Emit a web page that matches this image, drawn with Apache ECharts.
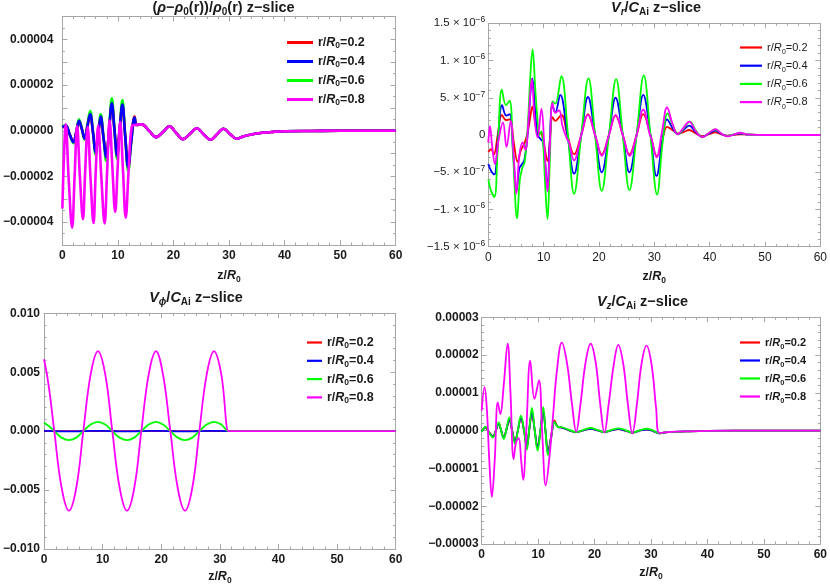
<!DOCTYPE html>
<html><head><meta charset="utf-8">
<script src="https://cdn.jsdelivr.net/npm/echarts@6/dist/echarts.min.js"></script>
<style>html,body{margin:0;padding:0;background:#fff}#c{width:830px;height:586px}</style>
</head><body><div id="c"></div><script>
// ---------- DATA ----------
const seriesNames = ['r/R0=0.2','r/R0=0.4','r/R0=0.6','r/R0=0.8'];
const xTicks = [0,10,20,30,40,50,60];

// Panel 1: (rho-rho0)/rho0, values in units of 1e-6
const rhoZ_inner = [0,0.6,1.3,2.0,2.5,3.0,3.5,4.0,4.5,5.0,5.5,6.0,6.45,6.9,7.4,7.9,8.4,8.9,9.35,9.85,10.3,10.8,11.3,11.85,12.4,13.0,13.4];
const rhoV_02 = [1.4,2.2,-1.5,-4.8,-0.6,4.0,0.7,-3.3,1.8,6.8,-0.6,-9.0,-1.5,5.8,-3,-11,0.2,11.3,1.0,-10.4,0.2,10.8,-2,-15.5,-4.2,6.2,2.5];
const rhoV_04 = [1.5,2.3,-1.5,-5.0,-0.6,4.3,0.8,-3.5,2.0,7.3,-0.6,-9.5,-1.5,6.2,-3,-11.5,0.3,12.0,1.2,-10.8,0.3,11.5,-2,-16,-4.5,5.8,2.5];
const rhoV_06 = [1.8,2.5,-1.5,-5.5,-0.5,5.0,1.0,-3.9,2.5,8.6,-0.5,-10.5,-1.5,7.2,-3,-13.3,0.5,14.2,1.5,-12.3,0.5,13.4,-2,-17.7,-5,5.3,2.5];
const rhoZ_08 = [0,0.3,0.6,1.15,1.75,2.2,2.65,3.15,3.7,4.1,4.55,5.05,5.6,6.0,6.45,7.0,7.6,8.05,8.5,9.0,9.5,9.95,10.4,10.9,11.4,11.95,12.5,13.1];
const rhoV_08 = [-34,-10,2.8,-22,-42.4,-20,2.0,-20,-38.7,-18,1.6,-20,-40.4,-18,2.3,-20,-40.6,-18,4.5,-16,-35.5,-16,3.8,-17,-38,-16,2.0,2.5];
const rhoTailZ = [14.3,15.6,16.9,18.1,19.3,20.5,21.7,22.9,24.2,25.4,26.7,27.8,29.0,30.2,31.4,32.5,34,36,38,40,45,50,60];
const rhoTailV = [2.8,0,-2.8,-0.5,1.9,-1,-3.7,-1.5,1.1,-1.5,-3.9,-1.6,0.9,-1.5,-3.5,-2.5,-1.6,-0.9,-0.5,-0.25,-0.1,0,0];

// Panel 2: Vr/CAi, values in units of 1e-7
const vrZ_02 = [0,0.5,1.0,1.7,2.45,3.2,3.9,4.6,5.3,5.9,6.5,7.1,7.5,7.95,8.5,8.9,9.5,10.0,10.7,11.2,11.6,12.1,13.2,14.3,15.5,16.8,18.0,19.3,20.5,21.8,23.0,24.3,25.5,26.8,28.0,29.3,30.5,31.5,32.3,33.4,34.3,35.3,36.3,37.5,38.7,39.9,41.0,42.1,43.2,45.5,50,60];
const vrV_02 = [-2.3,-1.9,-2.6,0,2.7,2.0,2.1,-1,-3.6,-2,-1.2,0.3,2,3.8,1.5,0.4,0.3,-1,-3.5,0,2.4,1.9,2.7,0,-2.6,0,2.8,0,-2.6,0,2.6,0,-2.6,0,2.8,0,-2.9,-0.5,1.1,0.6,0.2,0.4,0.67,0.2,-0.15,0.1,0.35,0.1,-0.08,0.1,0,0];
const vrZ_04 = [0,0.5,1.1,1.7,2.5,3.25,3.85,4.5,5.1,5.6,6.0,6.5,7.1,7.5,7.95,8.5,8.9,9.4,9.9,10.3,10.7,11.1,11.6,12.1,13.0,14.3,15.5,16.8,18.0,19.3,20.5,21.8,23.0,24.3,25.5,26.8,28.0,29.3,30.4,31.5,32.3,33.4,34.3,35.3,36.3,37.5,38.7,39.9,41.0,42.1,43.2,44.5,45.5,47,50,60];
const vrV_04 = [-3.9,-4.8,-5.3,-1,4.0,2.6,2.8,-2.5,-7.5,-4.5,-4.0,-3.4,0,4.5,7.6,3,0,-0.5,-1,-4,-7.3,-1,4.0,3.0,5.4,0,-5.2,0,5.1,0,-5.0,0,5.0,0,-5.0,0,5.4,0,-5.5,-0.5,2.1,0.8,0.1,0.7,1.25,0.4,-0.25,0.2,0.6,0.15,-0.12,0.08,0.2,0.05,0,0];
const vrZ_06 = [0,0.5,1.1,1.7,2.45,3.2,3.85,4.5,5.2,5.7,6.2,6.6,7.15,7.6,8.0,8.5,8.9,9.2,9.6,9.9,10.3,10.7,11.1,11.6,12.1,13.2,14.4,15.5,16.8,18.1,19.3,20.5,21.8,23.1,24.3,25.5,26.8,28.1,29.3,30.5,31.5,32.4,33.4,34.3,35.4,36.4,37.6,38.7,39.9,41.0,42.1,43.2,44.4,45.5,47,50,60];
const vrV_06 = [-6.0,-7.5,-8.3,-2,6.1,4.0,4.6,-3,-11.2,-6,-4.3,-3.5,1.5,8,11.5,6,2,0,0.5,-1,-7,-11.3,-4,4.5,4.2,7.9,0,-7.9,0,7.6,0,-7.5,0,7.5,0,-7.4,0,8.0,0,-8.0,-1,2.9,1.2,0.1,1,1.8,0.5,-0.3,0.3,0.75,0.2,-0.15,0.1,0.25,0.05,0,0];
const vrZ_08 = [0,0.3,0.7,1.2,1.9,2.65,3.3,4.05,4.6,5.07,5.6,6.2,6.7,7.25,7.86,8.4,8.9,9.6,10.1,10.7,11.1,11.6,12.1,12.8,13.4,14.2,14.5,15.5,16.8,18.0,19.3,19.5,20.5,21.8,23.0,24.3,24.5,25.5,26.8,28.0,29.2,29.5,30.4,31.4,32.3,33.3,34.2,35.3,36.3,37.5,38.7,39.9,41.1,42.1,43.2,44.5,45.5,47,50,60];
const vrV_08 = [-1.0,1.2,-1.5,-3.9,-0.5,1.7,-1.6,1.9,-3,-7.9,-2.8,-1.0,-2.0,1.9,7.5,1.9,-0.3,3.5,-1,-7.6,-2,4.3,3.0,3.3,1.2,-0.5,-0.8,-3.4,0,2.7,0,-0.5,-2.8,0,2.7,0,-0.5,-2.8,0,3.4,0,-0.5,-3.0,0.5,3.7,1.5,0.1,1.0,1.8,0.5,-0.3,0.3,0.8,0.2,-0.18,0.1,0.3,0.05,0,0];

// Panel 3: Vphi/CAi, values in units of 1e-3
const phiZ = [0,0.5,1.0,1.75,3.0,4.25,5.5,6.7,7.95,9.2,10.45,11.65,12.9,14.15,15.4,16.6,17.85,19.1,20.3,21.55,22.8,24.05,25.3,26.5,27.75,29.0,30.25,31.45,31.6,40,50,60];
const phiV_02 = [0,0,0,0,0,0,0,0,0,0,0,0,0,0,0,0,0,0,0,0,0,0,0,0,0,0,0,0,0,0,0,0];
const phiV_04 = [0.02,0.02,0.01,0,-0.02,-0.02,-0.02,0,0.02,0.02,0.02,0,-0.02,-0.02,-0.02,0,0.02,0.02,0.02,0,-0.02,-0.02,-0.02,0,0.02,0.02,0.02,0,0,0,0,0];
const phiV_06 = [0.7,0.55,0.35,0,-0.55,-0.76,-0.55,0,0.56,0.79,0.56,0,-0.55,-0.76,-0.55,0,0.56,0.79,0.56,0,-0.55,-0.76,-0.55,0,0.56,0.79,0.56,0,0,0,0,0];
const phiV_08 = [6.1,4.8,3.1,0,-4.8,-6.75,-4.8,0,4.8,6.78,4.8,0,-4.8,-6.75,-4.8,0,4.8,6.78,4.8,0,-4.8,-6.75,-4.8,0,4.8,6.78,4.8,0,0,0,0,0];

// Panel 4: Vz/CAi, values in units of 1e-6
const vzZ_low = [0,0.7,1.3,2.0,2.5,3.0,3.45,3.9,4.4,4.9,5.4,5.9,6.4,6.95,7.5,8.0,8.4,8.9,9.4,9.9,10.4,10.9,11.3,11.75,12.3,12.9,13.5,14.2,15.5,16.75,18.0,19.3,20.5,21.75,23.0,24.2,25.5,26.7,28.0,29.2,30.4,31.5,33,36,40,50,60];
const vzV_02 = [-0.2,0.8,-0.4,-1.5,0,1.8,0,-1.8,0.4,2.8,0,-2.8,0,3.2,0,-4.0,0,4.5,0,-4.3,0,5.0,0,-5.5,-1.5,2.7,1.0,0.8,0.1,-0.4,0.1,0.5,0.1,-0.4,0.1,0.4,0,-0.5,0,0.3,-0.1,-0.7,-0.4,-0.2,-0.05,0,0];
const vzV_04 = [-0.3,0.9,-0.5,-1.6,0,1.9,0,-1.9,0.4,3.0,0,-3.0,0,3.4,0,-4.3,0,4.8,0,-4.6,0,5.3,0,-5.8,-1.8,2.2,1.0,0.8,0.1,-0.4,0.1,0.5,0.1,-0.4,0.1,0.4,0,-0.5,0,0.3,-0.1,-0.7,-0.4,-0.2,-0.05,0,0];
const vzV_06 = [-0.3,1.0,-0.5,-1.8,0,2.2,0,-2.2,0.5,3.5,0,-3.5,0,4.0,0,-5.0,0,6.0,0,-5.3,0,6.2,0,-6.5,-2,2.3,1.0,0.9,0.2,-0.4,0.2,0.7,0.2,-0.4,0.2,0.6,0.1,-0.5,0.1,0.5,0,-0.7,-0.4,-0.2,-0.05,0,0];
const vzZ_08 = [0,0.5,0.9,1.35,1.8,2.3,2.85,3.3,3.9,4.6,5.1,5.65,6.1,6.55,7.0,7.35,7.9,8.6,9.35,10.15,10.7,11.35,12.0,12.7,13.3,14.2,15.1,16.0,16.75,17.5,18.4,19.3,20.2,21.0,21.75,22.5,23.4,24.2,25.1,25.9,26.7,27.5,28.3,29.2,30.1,30.9,31.5,33,36,40,50,60];
const vzV_08 = [5.3,11.5,6,-8,-17.5,-8,7.5,4.4,12,23,10,-7.5,-3,-2,-8,-13,0,18.5,8.4,13.3,0,-14.5,-7,5,15.5,23.3,18,7,-0.3,7,18,23,18,7,-0.5,7,17.5,22.7,17.5,7,-0.7,7,17.5,22.5,17.5,6,-0.6,-0.4,-0.2,-0.05,0,0];

// ---------- BUILD ----------
const FONT = '"Liberation Sans", Arial, Helvetica, sans-serif';
const COLORS = ['#ff0000','#0000ff','#00ff00','#ff00ff'];
const FRAME = '#a6a6a6';
function zip(zs, vs, s){ return zs.map((z,i)=>[z, vs[i]*s]); }
function sgn(v){ return v < -1e-15 ? '\u2212' : ''; }
function fixedFmt(v,d){ return sgn(v) + Math.abs(v).toFixed(d); }

const panelData = [
  [zip(rhoZ_inner.concat(rhoTailZ), rhoV_02.concat(rhoTailV), 1e-6),
   zip(rhoZ_inner.concat(rhoTailZ), rhoV_04.concat(rhoTailV), 1e-6),
   zip(rhoZ_inner.concat(rhoTailZ), rhoV_06.concat(rhoTailV), 1e-6),
   zip(rhoZ_08.concat(rhoTailZ), rhoV_08.concat(rhoTailV), 1e-6)],
  [zip(vrZ_02, vrV_02, 1e-7), zip(vrZ_04, vrV_04, 1e-7), zip(vrZ_06, vrV_06, 1e-7), zip(vrZ_08, vrV_08, 1e-7)],
  [zip(phiZ, phiV_02, 1e-3), zip(phiZ, phiV_04, 1e-3), zip(phiZ, phiV_06, 1e-3), zip(phiZ, phiV_08, 1e-3)],
  [zip(vzZ_low, vzV_02, 1e-6), zip(vzZ_low, vzV_04, 1e-6), zip(vzZ_low, vzV_06, 1e-6), zip(vzZ_08, vzV_08, 1e-6)]
];

const vrMant = {15:'1.5',10:'1.',5:'5.'};
const vrExp = {15:'\u22126',10:'\u22126',5:'\u22127'};
const panels = [
  {grid:{left:53.3, top:16.5, width:342.4, height:228.5}, ymin:-5e-5, ymax:5e-5, yint:1e-5, yminor:2, ym:9,
   yfmt:v=>{const k=Math.round(v*1e5); return (k%2)?'':fixedFmt(v,5);}, bold:true, lw:2.6, ng:23,
   legend:{left:287, top:36, itemWidth:26, ih:3, fs:12.5, gap:4.5, bold:true}},
  {grid:{left:488.3, top:23.3, width:336, height:223.4}, ymin:-1.5e-6, ymax:1.5e-6, yint:5e-7, yminor:5, ym:3,
   yfmt:v=>{const k=Math.round(v*1e7); if(k===0) return '{m|0}'; const a=Math.abs(k); return '{m|'+sgn(v)+vrMant[a]+' \u00d7 10}{e|'+vrExp[a]+'}';}, bold:false, lw:1.8, ng:22,
   legend:{left:740, top:42, itemWidth:22, ih:2.2, fs:11, gap:4.7, bold:false}},
  {grid:{left:40.7, top:313.3, width:355, height:236}, ymin:-0.01, ymax:0.01, yint:0.005, yminor:5, ym:4,
   yfmt:v=>fixedFmt(v,3), bold:true, lw:1.8, ng:20,
   legend:{left:307, top:336, itemWidth:15, ih:2.2, fs:12.5, gap:3.8, bold:true}},
  {grid:{left:481.7, top:317.3, width:342.6, height:226.7}, ymin:-3e-5, ymax:3e-5, yint:1e-5, yminor:5, ym:3,
   yfmt:v=>fixedFmt(v,5), bold:true, lw:1.8, ng:21,
   legend:{left:740, top:337, itemWidth:20, ih:2.2, fs:11, gap:4.5, bold:true}}
];

const nameRich = {
  n:{fontFamily:FONT, fontSize:12.5, fontWeight:'bold', color:'#1a1a1a', lineHeight:16},
  i:{fontFamily:FONT, fontSize:12.5, fontWeight:'bold', fontStyle:'italic', color:'#1a1a1a', lineHeight:16},
  s:{fontFamily:FONT, fontSize:8.5, fontWeight:'bold', color:'#1a1a1a', lineHeight:7, verticalAlign:'bottom'}
};

const grids=[], xAxes=[], yAxes=[], series=[], legends=[];
panels.forEach((p,pi)=>{
  grids.push(Object.assign({containLabel:false}, p.grid));
  const lblStyle = {fontFamily:FONT, fontSize:12, fontWeight:p.bold?'bold':'normal', color:'#1a1a1a'};
  const common = {gridIndex:pi, type:'value', splitLine:{show:false},
    axisLine:{show:true, onZero:false, lineStyle:{color:FRAME, width:1}},
    axisTick:{show:true, inside:true, length:5, lineStyle:{color:FRAME}},
  };
  xAxes.push(Object.assign({}, common, {position:'bottom', min:0, max:60, interval:10,
    minorTick:{show:true, splitNumber:5, length:2.5, lineStyle:{color:FRAME}},
    axisLabel:Object.assign({margin:5, formatter:v=>String(v)}, lblStyle),
    name:'{n|z/}{i|R}{s|0}', nameLocation:'middle', nameGap:p.ng,
    nameTextStyle:{rich:nameRich}}));
  xAxes.push(Object.assign({}, common, {position:'top', min:0, max:60, interval:10,
    minorTick:{show:true, splitNumber:5, length:2.5, lineStyle:{color:FRAME}},
    axisLabel:{show:false}}));
  const yl = Object.assign({margin:p.ym, formatter:p.yfmt}, lblStyle);
  if(pi===1){
    yl.rich = {m:{fontFamily:FONT, fontSize:11.5, color:'#1a1a1a', lineHeight:16},
               e:{fontFamily:FONT, fontSize:8.5, color:'#1a1a1a', lineHeight:8, verticalAlign:'top'}};
  }
  yAxes.push(Object.assign({}, common, {position:'left', min:p.ymin, max:p.ymax, interval:p.yint,
    minorTick:{show:true, splitNumber:p.yminor, length:2.5, lineStyle:{color:FRAME}},
    axisLabel:yl}));
  yAxes.push(Object.assign({}, common, {position:'right', min:p.ymin, max:p.ymax, interval:p.yint,
    minorTick:{show:true, splitNumber:p.yminor, length:2.5, lineStyle:{color:FRAME}},
    axisLabel:{show:false}}));
  const zOrder = pi===0 ? [3,4,2,5] : [2,3,4,5];
  seriesNames.forEach((nm,si)=>{
    series.push({type:'line', name:nm, xAxisIndex:2*pi, yAxisIndex:2*pi,
      data:panelData[pi][si], symbol:'none', showSymbol:false, smooth:0.4,
      lineStyle:{width:p.lw, color:COLORS[si]}, itemStyle:{color:COLORS[si]},
      z:zOrder[si], silent:true, animation:false});
  });
  const L = p.legend, w = L.bold?'bold':'normal';
  legends.push({orient:'vertical', left:L.left, top:L.top, itemWidth:L.itemWidth, itemHeight:L.ih,
    icon:'rect', itemGap:L.gap, padding:0, data:seriesNames, selectedMode:false,
    formatter:nm=>'{n|r/}{i|R}{s|0}{n|'+nm.slice(4)+'}',
    textStyle:{padding:[0,0,0,0], rich:{
      n:{fontFamily:FONT, fontSize:L.fs, fontWeight:w, color:'#1a1a1a', lineHeight:16},
      i:{fontFamily:FONT, fontSize:L.fs, fontWeight:w, fontStyle:'italic', color:'#1a1a1a', lineHeight:16},
      s:{fontFamily:FONT, fontSize:L.fs*0.68, fontWeight:w, color:'#1a1a1a', lineHeight:7, verticalAlign:'bottom'}}}});
});

const tRich = {
  b:{fontFamily:FONT, fontSize:14.5, fontWeight:'bold', fill:'#1a1a1a', lineHeight:19},
  bi:{fontFamily:FONT, fontSize:14.5, fontWeight:'bold', fontStyle:'italic', fill:'#1a1a1a', lineHeight:19},
  sub:{fontFamily:FONT, fontSize:10, fontWeight:'bold', fill:'#1a1a1a', lineHeight:8, verticalAlign:'bottom'},
  subi:{fontFamily:FONT, fontSize:10, fontWeight:'bold', fontStyle:'italic', fill:'#1a1a1a', lineHeight:8, verticalAlign:'bottom'}
};
function title(x,y,t){ return {type:'text', x:x, y:y, silent:true,
  style:{text:t, rich:tRich, align:'center', verticalAlign:'middle', fill:'#1a1a1a'}}; }

const option = {
  backgroundColor:'#ffffff', animation:false,
  grid:grids, xAxis:xAxes, yAxis:yAxes, series:series, legend:legends,
  graphic:[
    title(223.5, 8, '{b|(}{bi|\u03c1}{b|\u2212}{bi|\u03c1}{sub|0}{b|(r))/}{bi|\u03c1}{sub|0}{b|(r) z\u2212slice}'),
    title(656, 7.5, '{bi|V}{subi|r}{b|/}{bi|C}{sub|Ai}{b| z\u2212slice}'),
    title(196, 297.5, '{bi|V}{subi|\u03d5}{b|/}{bi|C}{sub|Ai}{b| z\u2212slice}'),
    title(642.5, 301.5, '{bi|V}{subi|z}{b|/}{bi|C}{sub|Ai}{b| z\u2212slice}')
  ]
};
const chart = echarts.init(document.getElementById('c'), null, {renderer:'canvas'});
chart.setOption(option);
</script></body></html>
